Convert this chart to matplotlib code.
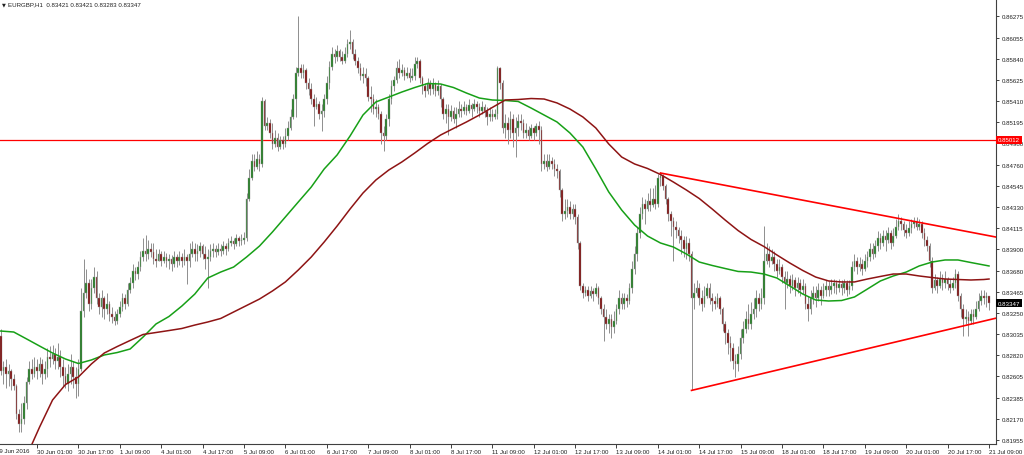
import numpy as np
import matplotlib
matplotlib.use("Agg")
import matplotlib.pyplot as plt
import matplotlib.transforms as mtransforms

# EURGBP H1, prices in pips (x 0.0001), bars from 29 Jun 11:00 to 21 Jul 09:00
first_open = 8301
close = [
    8266, 8270, 8263, 8266, 8258, 8251, 8222, 8212, 8217, 8233,
    8255, 8268, 8263, 8270, 8266, 8273, 8263, 8268, 8280, 8278,
    8283, 8276, 8280, 8270, 8261, 8253, 8263, 8270, 8260, 8253,
    8268, 8327, 8345, 8355, 8334, 8350, 8362, 8340, 8331, 8340,
    8329, 8334, 8324, 8321, 8317, 8324, 8331, 8340, 8334, 8348,
    8355, 8368, 8365, 8372, 8382, 8388, 8385, 8390, 8387, 8380,
    8378, 8385, 8378, 8382, 8378, 8380, 8375, 8382, 8378, 8382,
    8378, 8382, 8378, 8385, 8390, 8385, 8388, 8393, 8385, 8380,
    8382, 8388, 8390, 8387, 8390, 8388, 8393, 8390, 8396, 8398,
    8395, 8401, 8398, 8399, 8401, 8441, 8462, 8480, 8474, 8482,
    8477, 8541, 8515, 8518, 8508, 8497, 8503, 8494, 8501, 8497,
    8505, 8513, 8525, 8543, 8569, 8574, 8569, 8572, 8559, 8553,
    8543, 8535, 8538, 8528, 8531, 8543, 8559, 8576, 8589, 8586,
    8592, 8586, 8582, 8589, 8599, 8601, 8589, 8582, 8574, 8566,
    8568, 8564, 8545, 8543, 8533, 8535, 8528, 8508, 8505, 8523,
    8543, 8556, 8562, 8574, 8569, 8572, 8566, 8569, 8564, 8566,
    8579, 8582, 8564, 8556, 8551, 8559, 8553, 8558, 8551, 8556,
    8543, 8528, 8533, 8525, 8531, 8523, 8528, 8533, 8531, 8535,
    8531, 8537, 8533, 8538, 8535, 8531, 8535, 8531, 8525, 8528,
    8525, 8528, 8574, 8559, 8513, 8518, 8511, 8523, 8508, 8513,
    8521, 8518, 8508, 8511, 8505, 8513, 8508, 8515, 8511, 8477,
    8480, 8474, 8480, 8477, 8472, 8470, 8450, 8426, 8429, 8433,
    8426, 8431, 8423, 8396, 8352, 8345, 8348, 8342, 8347, 8344,
    8350, 8340, 8329, 8321, 8314, 8319, 8311, 8317, 8329, 8340,
    8334, 8340, 8337, 8350, 8370, 8385, 8406, 8426, 8436, 8431,
    8439, 8435, 8441, 8436, 8462, 8464, 8454, 8441, 8426, 8419,
    8413, 8409, 8403, 8399, 8390, 8396, 8385, 8340, 8345, 8350,
    8340, 8334, 8342, 8350, 8340, 8337, 8334, 8340, 8329, 8314,
    8304, 8294, 8289, 8276, 8273, 8283, 8299, 8309, 8319, 8314,
    8324, 8329, 8340, 8334, 8340, 8378, 8385, 8378, 8382, 8375,
    8368, 8372, 8362, 8355, 8360, 8352, 8358, 8350, 8355, 8348,
    8352, 8334, 8329, 8340, 8345, 8340, 8348, 8342, 8348, 8352,
    8348, 8352, 8355, 8350, 8354, 8350, 8355, 8348, 8352, 8372,
    8378, 8372, 8375, 8370, 8378, 8382, 8390, 8385, 8393, 8401,
    8396, 8403, 8399, 8406, 8396, 8403, 8413, 8419, 8416, 8409,
    8406, 8411, 8416, 8419, 8413, 8416, 8406, 8399, 8393, 8378,
    8350, 8358, 8352, 8360, 8355, 8360, 8354, 8350, 8355, 8365,
    8342, 8329, 8319, 8321, 8317, 8324, 8321, 8329, 8337, 8342,
    8340, 8342, 8334.7,
]
high = [
    8309, 8276, 8278, 8273, 8268, 8263, 8253, 8227, 8233, 8240,
    8260, 8276, 8278, 8280, 8278, 8280, 8278, 8276, 8289, 8291,
    8292, 8289, 8294, 8287, 8278, 8270, 8273, 8283, 8276, 8270,
    8278, 8350, 8380, 8370, 8360, 8360, 8372, 8368, 8345, 8348,
    8342, 8345, 8337, 8331, 8327, 8329, 8337, 8345, 8344, 8355,
    8362, 8375, 8372, 8378, 8388, 8401, 8404, 8399, 8396, 8396,
    8390, 8390, 8388, 8388, 8386, 8385, 8384, 8388, 8385, 8388,
    8386, 8390, 8385, 8396, 8398, 8396, 8395, 8397, 8395, 8393,
    8390, 8395, 8396, 8394, 8396, 8395, 8398, 8396, 8401, 8403,
    8401, 8405, 8403, 8405, 8407, 8447, 8472, 8487, 8487, 8490,
    8487, 8545, 8543, 8525, 8523, 8518, 8511, 8508, 8505, 8505,
    8513, 8521, 8533, 8548, 8576, 8627, 8579, 8579, 8574, 8564,
    8559, 8548, 8545, 8541, 8538, 8548, 8566, 8582, 8596, 8594,
    8598, 8594, 8592, 8596, 8604, 8613, 8604, 8594, 8586, 8580,
    8576, 8574, 8566, 8556, 8548, 8543, 8538, 8531, 8515, 8528,
    8548, 8562, 8566, 8582, 8584, 8579, 8576, 8576, 8574, 8574,
    8586, 8586, 8584, 8566, 8559, 8564, 8562, 8564, 8560, 8562,
    8558, 8545, 8538, 8538, 8537, 8535, 8535, 8541, 8538, 8541,
    8538, 8543, 8539, 8543, 8541, 8539, 8541, 8538, 8535, 8535,
    8533, 8533, 8577, 8576, 8562, 8528, 8525, 8531, 8528, 8525,
    8528, 8528, 8523, 8518, 8515, 8517, 8515, 8518, 8521, 8515,
    8487, 8487, 8487, 8484, 8482, 8477, 8472, 8452, 8441, 8441,
    8439, 8436, 8436, 8426, 8398, 8355, 8352, 8352, 8352, 8350,
    8355, 8352, 8342, 8334, 8329, 8324, 8324, 8327, 8334, 8348,
    8345, 8345, 8344, 8355, 8378, 8393, 8413, 8433, 8443, 8441,
    8447, 8452, 8452, 8455, 8466, 8469, 8466, 8456, 8443, 8429,
    8423, 8419, 8413, 8409, 8403, 8403, 8401, 8388, 8355, 8358,
    8355, 8348, 8352, 8355, 8355, 8345, 8342, 8345, 8342, 8331,
    8317, 8309, 8301, 8294, 8283, 8291, 8309, 8317, 8327, 8334,
    8336, 8340, 8348, 8345, 8350, 8414, 8396, 8393, 8390, 8388,
    8380, 8380, 8375, 8368, 8368, 8364, 8365, 8362, 8362, 8360,
    8360, 8355, 8342, 8348, 8352, 8352, 8355, 8352, 8355, 8358,
    8357, 8360, 8360, 8358, 8360, 8358, 8360, 8358, 8358, 8378,
    8385, 8382, 8382, 8380, 8385, 8388, 8396, 8396, 8399, 8408,
    8406, 8409, 8409, 8413, 8409, 8411, 8421, 8426, 8423, 8419,
    8416, 8419, 8421, 8423, 8423, 8421, 8419, 8411, 8403, 8396,
    8382, 8365, 8362, 8368, 8365, 8368, 8362, 8360, 8362, 8370,
    8368, 8345, 8334, 8329, 8327, 8329, 8329, 8337, 8345, 8348,
    8348, 8346, 8342.1,
]
low = [
    8262, 8253, 8248, 8250, 8246, 8246, 8217, 8204, 8204, 8212,
    8227, 8253, 8258, 8260, 8258, 8260, 8253, 8258, 8260, 8270,
    8273, 8268, 8268, 8260, 8250, 8248, 8245, 8253, 8248, 8238,
    8240, 8266, 8321, 8340, 8327, 8329, 8345, 8334, 8324, 8321,
    8319, 8324, 8317, 8315, 8313, 8314, 8321, 8327, 8329, 8332,
    8345, 8350, 8358, 8360, 8368, 8378, 8378, 8380, 8382, 8375,
    8372, 8378, 8373, 8376, 8372, 8370, 8368, 8372, 8372, 8374,
    8372, 8374, 8354, 8372, 8382, 8378, 8378, 8382, 8380, 8370,
    8350, 8378, 8382, 8382, 8384, 8383, 8385, 8384, 8388, 8393,
    8390, 8393, 8393, 8394, 8395, 8398, 8439, 8460, 8470, 8472,
    8470, 8474, 8511, 8511, 8503, 8492, 8494, 8490, 8492, 8492,
    8494, 8501, 8511, 8523, 8525, 8566, 8564, 8564, 8553, 8547,
    8538, 8515, 8533, 8523, 8510, 8525, 8538, 8553, 8572, 8580,
    8582, 8582, 8579, 8580, 8586, 8594, 8584, 8578, 8569, 8562,
    8559, 8556, 8541, 8530, 8528, 8525, 8523, 8497, 8490, 8501,
    8515, 8538, 8551, 8559, 8564, 8566, 8562, 8564, 8560, 8562,
    8562, 8574, 8559, 8548, 8545, 8548, 8547, 8548, 8546, 8547,
    8535, 8523, 8518, 8506, 8521, 8518, 8513, 8525, 8525, 8528,
    8527, 8529, 8525, 8531, 8529, 8525, 8528, 8525, 8516, 8521,
    8520, 8523, 8523, 8553, 8508, 8503, 8497, 8503, 8494, 8484,
    8505, 8511, 8503, 8503, 8501, 8503, 8501, 8505, 8497, 8470,
    8472, 8470, 8472, 8472, 8464, 8462, 8443, 8419, 8421, 8423,
    8421, 8421, 8416, 8390, 8348, 8340, 8342, 8337, 8340, 8337,
    8342, 8334, 8324, 8296, 8309, 8304, 8299, 8304, 8314, 8324,
    8329, 8329, 8331, 8334, 8345, 8365, 8378, 8401, 8421, 8416,
    8429, 8429, 8433, 8431, 8433, 8454, 8450, 8436, 8419, 8403,
    8378, 8401, 8396, 8385, 8382, 8380, 8378, 8246, 8329, 8342,
    8333, 8327, 8331, 8340, 8334, 8327, 8329, 8331, 8324, 8307,
    8293, 8283, 8276, 8268, 8260, 8266, 8278, 8294, 8304, 8309,
    8309, 8319, 8321, 8327, 8329, 8334, 8375, 8372, 8375, 8368,
    8362, 8365, 8355, 8329, 8350, 8345, 8348, 8342, 8345, 8342,
    8344, 8329, 8317, 8324, 8334, 8331, 8337, 8333, 8340, 8342,
    8342, 8344, 8345, 8344, 8346, 8343, 8345, 8342, 8344, 8348,
    8368, 8365, 8368, 8364, 8368, 8372, 8378, 8380, 8382, 8388,
    8390, 8393, 8388, 8396, 8390, 8393, 8401, 8409, 8409, 8403,
    8401, 8403, 8406, 8411, 8409, 8409, 8401, 8393, 8388, 8372,
    8345, 8348, 8345, 8350, 8348, 8350, 8348, 8345, 8348, 8350,
    8337, 8321, 8301, 8314, 8301, 8314, 8314, 8319, 8327, 8333,
    8334, 8331, 8328.3,
]

# moving averages every 5 bars (pips)
ma_bars = list(range(0, 381, 5)) + [382]
ma_fast = [
    8306.5, 8305.5, 8298.4, 8291.2, 8284.1, 8278.0, 8273.4, 8277.0, 8282.1, 8284.6,
    8288.2, 8300.4, 8313.7, 8321.3, 8332.0, 8344.2, 8360.5, 8366.6, 8371.7, 8381.9,
    8393.1, 8407.4, 8422.7, 8438.0, 8453.2, 8471.6, 8485.9, 8505.2, 8526.6, 8539.9,
    8544.9, 8550.0, 8554.6, 8558.7, 8558.2, 8554.6, 8549.0, 8543.9, 8541.9, 8541.4,
    8540.4, 8533.7, 8526.6, 8519.5, 8508.3, 8494.0, 8471.6, 8448.2, 8429.8, 8414.5,
    8403.3, 8396.2, 8392.1, 8385.0, 8376.8, 8373.3, 8370.2, 8367.2, 8366.6, 8364.6,
    8360.5, 8352.4, 8344.2, 8338.1, 8337.1, 8337.6, 8341.2, 8349.3, 8357.5, 8362.6,
    8366.6, 8372.8, 8376.8, 8378.9, 8378.9, 8376.3, 8373.8, 8372.8,
]
ma_slow = [
    8130.3, 8153.7, 8179.2, 8208.7, 8236.2, 8252.0, 8259.7, 8272.9, 8284.1, 8290.7,
    8296.9, 8303.0, 8305.0, 8307.0, 8309.1, 8312.6, 8315.7, 8319.3, 8325.9, 8332.5,
    8339.1, 8347.3, 8356.5, 8368.7, 8381.9, 8397.2, 8413.5, 8430.8, 8447.1, 8460.4,
    8470.6, 8478.7, 8487.9, 8497.6, 8506.2, 8512.9, 8519.5, 8526.6, 8534.3, 8541.9,
    8542.4, 8543.4, 8542.9, 8538.9, 8532.7, 8524.6, 8513.4, 8497.1, 8483.8, 8476.7,
    8472.1, 8466.0, 8458.3, 8450.2, 8441.5, 8430.8, 8419.6, 8408.9, 8399.8, 8392.6,
    8384.0, 8375.8, 8368.2, 8361.5, 8357.5, 8356.5, 8356.5, 8359.5, 8362.1, 8364.6,
    8364.6, 8362.6, 8361.0, 8359.5, 8359.0, 8358.5, 8359.0, 8359.5,
]

# drawn objects
hline_price = 0.85012
upper_bars, upper_px = [255, 385], [8467.5, 8402.1]
lower_bars, lower_px = [267, 385], [8246.0, 8319.8]

ytick_vals = [0.86275, 0.86055, 0.85840, 0.85625, 0.85410, 0.85195, 0.84980,
              0.84760, 0.84545, 0.84330, 0.84115, 0.83900, 0.83680, 0.83465,
              0.83250, 0.83035, 0.82820, 0.82605, 0.82385, 0.82170, 0.81955]
xtick_bars = [14, 30, 46, 62, 78, 94, 110, 126, 142, 158, 174, 190,
              206, 222, 238, 254, 270, 286, 302, 318, 334, 350, 366, 382]
xtick_labels = ["30 Jun 01:00", "30 Jun 17:00", "1 Jul 09:00", "4 Jul 01:00",
                "4 Jul 17:00", "5 Jul 09:00", "6 Jul 01:00", "6 Jul 17:00",
                "7 Jul 09:00", "8 Jul 01:00", "8 Jul 17:00", "11 Jul 09:00",
                "12 Jul 01:00", "12 Jul 17:00", "13 Jul 09:00", "14 Jul 01:00",
                "14 Jul 17:00", "15 Jul 09:00", "18 Jul 01:00", "18 Jul 17:00",
                "19 Jul 09:00", "20 Jul 01:00", "20 Jul 17:00", "21 Jul 09:00"]

plt.rcParams["font.family"] = ["Liberation Sans", "DejaVu Sans"]
FS = 4.4

c = np.array(close) / 1e4
o = np.concatenate([[first_open], close[:-1]]) / 1e4
h = np.maximum(np.array(high) / 1e4, np.maximum(o, c))
l = np.minimum(np.array(low) / 1e4, np.minimum(o, c))
x = np.arange(len(c))

fig = plt.figure(figsize=(10.24, 4.56), dpi=100)
ax = fig.add_axes([0, 11 / 456, 996 / 1024, 445 / 456])
ax.set_xlim(-0.31, 384.7)
ax.set_ylim(0.81914, 0.86448)

ax.axhline(hline_price, color="#ff0000", lw=0.9, zorder=1)

ax.vlines(x, l, h, color="#8e8e8e", lw=0.7, zorder=2)
up = c >= o
body_bot = np.minimum(o, c)
body_h = np.maximum(np.abs(c - o), 0.00004)
ax.bar(x[up], body_h[up], bottom=body_bot[up], width=0.62,
       color="#1e7b1e", edgecolor="#9a9a9a", linewidth=0.3, zorder=3)
ax.bar(x[~up], body_h[~up], bottom=body_bot[~up], width=0.62,
       color="#7d0a0a", edgecolor="#9a9a9a", linewidth=0.3, zorder=3)

ax.plot(ma_bars, np.array(ma_fast) / 1e4, color="#17a017", lw=1.1, zorder=4)
ax.plot(ma_bars, np.array(ma_slow) / 1e4, color="#8e1414", lw=1.1, zorder=4)

ax.plot(upper_bars, np.array(upper_px) / 1e4, color="#ff0000", lw=1.2, zorder=5)
ax.plot(lower_bars, np.array(lower_px) / 1e4, color="#ff0000", lw=1.2, zorder=5)

for s in ["top", "left"]:
    ax.spines[s].set_visible(False)
for s in ["right", "bottom"]:
    ax.spines[s].set_color("#404040")
    ax.spines[s].set_linewidth(0.8)

ax.yaxis.tick_right()
ax.set_yticks(ytick_vals)
ax.set_yticklabels(["%.5f" % v for v in ytick_vals])
ax.tick_params(axis="y", direction="out", length=2.5, width=0.6, pad=1.5,
               labelsize=FS, colors="#202020")
ax.set_xticks(xtick_bars)
ax.set_xticklabels(xtick_labels)
ax.tick_params(axis="x", direction="out", length=3, width=0.6, pad=0.8,
               labelsize=FS, colors="#202020")
for lab in ax.get_xticklabels():
    lab.set_horizontalalignment("left")

blend = mtransforms.blended_transform_factory(ax.transData, ax.transAxes)
ax.text(-2.0, -0.008, "29 Jun 2016", transform=blend, fontsize=FS, ha="left",
        va="top", color="#202020", clip_on=False)

rblend = mtransforms.blended_transform_factory(ax.transAxes, ax.transData)
ax.text(1.002, hline_price, "0.85012", transform=rblend, fontsize=FS, ha="left",
        va="center", color="white", clip_on=False, zorder=10,
        bbox=dict(boxstyle="square,pad=0.25", fc="#ff0000", ec="none"))
ax.text(1.002, c[-1], "%.5f" % c[-1], transform=rblend, fontsize=FS, ha="left",
        va="center", color="white", clip_on=False, zorder=10,
        bbox=dict(boxstyle="square,pad=0.25", fc="black", ec="none"))

fig.text(2 / 1024, 1 - 5 / 456, "\u25bc", fontsize=3.6, va="center", ha="left",
         color="#202020", family=["DejaVu Sans"])
fig.text(8 / 1024, 1 - 5 / 456, "EURGBP,H1  0.83421 0.83421 0.83283 0.83347",
         fontsize=FS, va="center", ha="left", color="#202020")

fig.savefig("out.png", dpi=100)
